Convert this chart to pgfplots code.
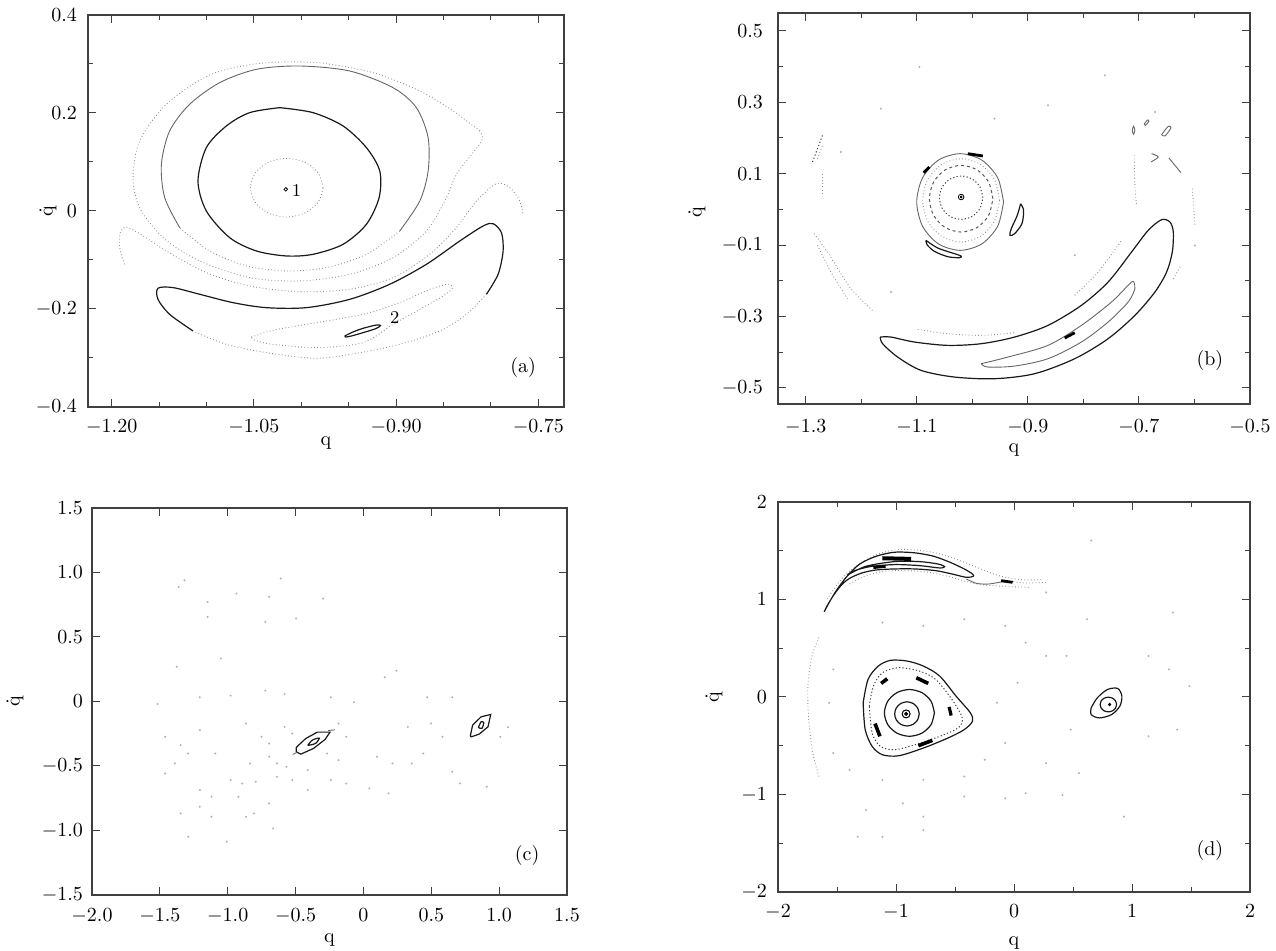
\documentclass[border=0pt]{standalone}
\usepackage{pgfplots}
\pgfplotsset{compat=1.18}
\begin{document}
\begin{tikzpicture}
\useasboundingbox (0,0) rectangle (638pt,475.5pt);
\pgfplotsset{
  panel/.style={scale only axis, anchor=south west,
    axis line style={black!75,line width=0.7pt},
    tick style={black!75,line width=0.5pt},
    major tick length=4pt, minor tick length=2.5pt,
    tick align=inside, tick pos=both,
    xlabel={q}, ylabel={\.q},
    xlabel style={at={(rel axis cs:0.5,0)},anchor=center},
  },
  sd/.style={black!90,line width=0.6pt},
  sg/.style={black!60,line width=0.45pt},
  dl/.style={black!45,line width=0.45pt,dash pattern=on 0.4pt off 1.2pt},
  dd/.style={black!75,line width=0.5pt,dash pattern=on 0.6pt off 1.1pt},
  td/.style={black,line width=1.4pt},
  sea/.style={only marks,mark=*,mark size=0.28pt,black!30},
}
% ---------------- (a) ----------------
\begin{axis}[panel, at={(44pt,272pt)}, width=238pt, height=196pt,
  xmin=-1.225, xmax=-0.723, ymin=-0.4, ymax=0.4,
  xtick={-1.2,-1.05,-0.9,-0.75}, xticklabels={$-1.20$,$-1.05$,$-0.90$,$-0.75$},
  minor xtick={-1.15,-1.1,-1,-0.95,-0.85,-0.8},
  ytick={-0.4,-0.2,0,0.2,0.4}, yticklabels={$-0.4$,$-0.2$,$0$,$0.2$,$0.4$},
  minor ytick={-0.3,-0.1,0.1,0.3},
  xticklabel style={yshift=-3pt}, yticklabel style={xshift=-2pt},
  ylabel style={at={(rel axis cs:0,0.5)},anchor=center,yshift=20pt},
  xlabel style={yshift=-18pt}]
% outer dotted loop
\addplot[dl,smooth] coordinates {(-0.8118,0.1633)(-0.8400,0.2041)(-0.8751,0.2449)(-0.9244,0.2823)(-0.9841,0.3027)(-1.0439,0.3013)(-1.0967,0.2775)(-1.1424,0.2177)(-1.1705,0.1429)(-1.1775,0.0680)(-1.1705,0.0068)(-1.1459,-0.0544)(-1.1072,-0.1020)(-1.0545,-0.1360)(-1.0017,-0.1428)(-0.9490,-0.1292)(-0.9033,-0.0952)(-0.8681,-0.0408)(-0.8470,0.0272)(-0.8365,0.0748)(-0.8189,0.1191)(-0.8090,0.1463)(-0.8118,0.1633)};
% second loop, upper part solid gray
\addplot[sg,smooth] coordinates {(-1.1283,-0.0340)(-1.1441,0.0272)(-1.1476,0.0952)(-1.1389,0.1633)(-1.1178,0.2177)(-1.0861,0.2619)(-1.0474,0.2891)(-1.0017,0.2959)(-0.9490,0.2857)(-0.9033,0.2517)(-0.8787,0.2109)(-0.8663,0.1497)(-0.8663,0.0816)(-0.8751,0.0204)(-0.8962,-0.0408)};
% second loop, lower part dotted
\addplot[dl,smooth] coordinates {(-0.8962,-0.0408)(-0.9314,-0.0884)(-0.9736,-0.1156)(-1.0158,-0.1224)(-1.0580,-0.1122)(-1.0967,-0.0816)(-1.1283,-0.0340)};
% solid ellipse around 1
\addplot[sd,smooth] coordinates {(-1.0228,0.2109)(-0.9877,0.2007)(-0.9560,0.1735)(-0.9314,0.1293)(-0.9173,0.0816)(-0.9180,0.0272)(-0.9314,-0.0272)(-0.9560,-0.0680)(-0.9877,-0.0884)(-1.0158,-0.0918)(-1.0474,-0.0816)(-1.0756,-0.0544)(-1.1002,0.0)(-1.1090,0.0612)(-1.1002,0.1293)(-1.0791,0.1735)(-1.0545,0.2007)(-1.0228,0.2109)};
% inner dotted ring
\addplot[dl,smooth] coordinates {(-0.9771,0.0476)(-0.9822,0.0776)(-0.9963,0.0995)(-1.0154,0.1075)(-1.0346,0.0995)(-1.0486,0.0776)(-1.0537,0.0476)(-1.0486,0.0177)(-1.0346,-0.0043)(-1.0154,-0.0123)(-0.9963,-0.0043)(-0.9822,0.0177)(-0.9771,0.0476)};
% tongue curve
\addplot[dl,smooth] coordinates {(-1.1863,-0.1088)(-1.1916,-0.0748)(-1.1909,-0.0442)(-1.1853,-0.0326)(-1.1705,-0.0462)(-1.1424,-0.0816)(-1.1002,-0.1258)(-1.0545,-0.1530)(-1.0017,-0.1646)(-0.9490,-0.1598)(-0.9033,-0.1360)(-0.8646,-0.0884)(-0.8365,-0.0340)(-0.8153,0.0204)(-0.7943,0.0558)(-0.7802,0.0476)(-0.7697,0.0204)(-0.7661,-0.0068)};
% banana: dark part
\addplot[sd,smooth] coordinates {(-1.1142,-0.2449)(-1.1389,-0.2109)(-1.1512,-0.1803)(-1.1512,-0.1577)(-1.1353,-0.1564)(-1.1072,-0.1700)(-1.0720,-0.1871)(-1.0369,-0.1973)(-0.9947,-0.1973)(-0.9490,-0.1803)(-0.9068,-0.1496)(-0.8681,-0.1088)(-0.8329,-0.0612)(-0.8083,-0.0306)(-0.7978,-0.0259)(-0.7890,-0.0442)(-0.7872,-0.0816)(-0.7925,-0.1292)(-0.8048,-0.1700)};
% banana: light part
\addplot[dl,smooth] coordinates {(-0.8048,-0.1700)(-0.8259,-0.2109)(-0.8540,-0.2449)(-0.8962,-0.2721)(-0.9384,-0.2891)(-0.9841,-0.3007)(-1.0369,-0.2891)(-1.0791,-0.2721)(-1.1142,-0.2449)};
% dotted loop around island 2
\addplot[dl,smooth] coordinates {(-1.0527,-0.2572)(-1.0299,-0.2435)(-0.9947,-0.2313)(-0.9349,-0.2109)(-0.8962,-0.1871)(-0.8646,-0.1598)(-0.8453,-0.1496)(-0.8407,-0.1577)(-0.8505,-0.1735)(-0.8751,-0.2007)(-0.9033,-0.2313)(-0.9349,-0.2687)(-0.9841,-0.2789)(-1.0299,-0.2721)(-1.0492,-0.2640)(-1.0527,-0.2572)};
% island 2
\addplot[sd,smooth] coordinates {(-0.9543,-0.2551)(-0.9455,-0.2469)(-0.9349,-0.2395)(-0.9208,-0.2327)(-0.9166,-0.2340)(-0.9215,-0.2401)(-0.9349,-0.2483)(-0.9472,-0.2551)(-0.9532,-0.2572)(-0.9543,-0.2551)};
% fixed point 1
\addplot[black,only marks,mark=o,mark size=0.9pt,mark options={line width=0.4pt}] coordinates {(-1.0164,0.0442)};
\node[font=\small] at (axis cs:-1.0052,0.0408) {1};
\node[font=\small] at (axis cs:-0.9015,-0.2177) {2};
\node at (rel axis cs:0.914,0.10) {(a)};
\end{axis}
% ---------------- (b) ----------------
\begin{axis}[panel, at={(389pt,273.5pt)}, width=236pt, height=195.5pt,
  xmin=-1.35, xmax=-0.5, ymin=-0.545, ymax=0.55,
  xtick={-1.3,-1.1,-0.9,-0.7,-0.5}, xticklabels={$-1.3$,$-1.1$,$-0.9$,$-0.7$,$-0.5$},
  minor xtick={-1.2,-1.0,-0.8,-0.6},
  ytick={-0.5,-0.3,-0.1,0.1,0.3,0.5}, yticklabels={$-0.5$,$-0.3$,$-0.1$,$0.1$,$0.3$,$0.5$},
  minor ytick={-0.4,-0.2,0,0.2,0.4},
  xticklabel style={yshift=-4.5pt}, yticklabel style={xshift=-4pt},
  ylabel style={at={(rel axis cs:0,0.49)},anchor=center,yshift=40.5pt},
  xlabel style={yshift=-23pt}]
\addplot[sea] coordinates {(-1.0954,0.3988)(-0.7615,0.3752)(-0.6712,0.2727)(-1.1646,0.2820)(-1.2368,0.1607)(-0.9600,0.2540)(-0.8638,0.2914)(-0.5991,-0.1008)(-1.1465,-0.2315)(-0.8156,-0.1288)};
% rings
\addplot[dd,smooth] coordinates {(-0.9811,0.0327)(-0.9863,0.0631)(-1.0006,0.0853)(-1.0202,0.0934)(-1.0398,0.0853)(-1.0541,0.0631)(-1.0593,0.0327)(-1.0541,0.0023)(-1.0398,-0.0199)(-1.0202,-0.0280)(-1.0006,-0.0199)(-0.9863,0.0023)(-0.9811,0.0327)};
\addplot[black!65,line width=0.5pt,dash pattern=on 1.5pt off 1.5pt,smooth] coordinates {(-0.9630,0.0299)(-0.9707,0.0766)(-0.9916,0.1108)(-1.0202,0.1233)(-1.0488,0.1108)(-1.0697,0.0766)(-1.0774,0.0299)(-1.0697,-0.0168)(-1.0488,-0.0510)(-1.0202,-0.0635)(-0.9916,-0.0510)(-0.9707,-0.0168)(-0.9630,0.0299)};
\addplot[dl,smooth] coordinates {(-0.9510,0.0253)(-0.9603,0.0837)(-0.9856,0.1264)(-1.0202,0.1420)(-1.0548,0.1264)(-1.0801,0.0837)(-1.0894,0.0253)(-1.0801,-0.0331)(-1.0548,-0.0758)(-1.0202,-0.0914)(-0.9856,-0.0758)(-0.9603,-0.0331)(-0.9510,0.0253)};
\addplot[sg,smooth] coordinates {(-0.9438,0.0206)(-0.9543,0.0883)(-0.9829,0.1379)(-1.0220,0.1560)(-1.0611,0.1379)(-1.0897,0.0883)(-1.1002,0.0206)(-1.0897,-0.0471)(-1.0611,-0.0967)(-1.0220,-0.1148)(-0.9829,-0.0967)(-0.9543,-0.0471)(-0.9438,0.0206)};
% islands around
\addplot[sd,smooth] coordinates {(-0.9131,0.0159)(-0.9077,-0.0027)(-0.9107,-0.0401)(-0.9239,-0.0681)(-0.9324,-0.0728)(-0.9299,-0.0541)(-0.9191,-0.0167)(-0.9131,0.0159)};
\addplot[sd,smooth] coordinates {(-1.0834,-0.0868)(-1.0623,-0.1083)(-1.0322,-0.1241)(-1.0202,-0.1307)(-1.0232,-0.1353)(-1.0443,-0.1325)(-1.0683,-0.1176)(-1.0816,-0.0989)(-1.0834,-0.0868)};
\addplot[td] coordinates {(-1.0082,0.1560)(-0.9811,0.1495)};
\addplot[td] coordinates {(-1.0877,0.1028)(-1.0774,0.1186)};
% fixed point
\addplot[black,only marks,mark=o,mark size=1.4pt,mark options={line width=0.4pt}] coordinates {(-1.0202,0.0346)};
\addplot[black,only marks,mark=*,mark size=0.5pt] coordinates {(-1.0202,0.0346)};
% big banana
\addplot[sd,smooth] coordinates {(-1.1658,-0.3576)(-1.1465,-0.3576)(-1.1044,-0.3715)(-1.0443,-0.3809)(-0.9841,-0.3762)(-0.9239,-0.3576)(-0.8638,-0.3249)(-0.8036,-0.2688)(-0.7555,-0.2035)(-0.7133,-0.1195)(-0.6833,-0.0588)(-0.6592,-0.0289)(-0.6442,-0.0354)(-0.6381,-0.0634)(-0.6399,-0.1195)(-0.6501,-0.1755)(-0.6712,-0.2315)(-0.7073,-0.2969)(-0.7555,-0.3622)(-0.8156,-0.4182)(-0.8878,-0.4602)(-0.9600,-0.4743)(-1.0322,-0.4696)(-1.0924,-0.4509)(-1.1345,-0.4136)(-1.1616,-0.3762)(-1.1658,-0.3576)};
\addplot[sg,smooth] coordinates {(-0.9841,-0.4322)(-0.9360,-0.4136)(-0.8638,-0.3809)(-0.8036,-0.3249)(-0.7494,-0.2595)(-0.7194,-0.2128)(-0.7103,-0.2016)(-0.7073,-0.2221)(-0.7194,-0.2595)(-0.7555,-0.3155)(-0.8036,-0.3715)(-0.8638,-0.4182)(-0.9239,-0.4388)(-0.9721,-0.4416)(-0.9841,-0.4322)};
\addplot[td] coordinates {(-0.8337,-0.3603)(-0.8156,-0.3454)};
% broken outer arcs
\addplot[dd] coordinates {(-1.2879,0.1327)(-1.2699,0.2074)};
\addplot[dl] coordinates {(-1.2789,0.1420)(-1.2699,0.1793)};
\addplot[dl] coordinates {(-1.2699,0.1000)(-1.2699,0.0393)};
\addplot[dl,smooth] coordinates {(-1.2849,-0.0681)(-1.2609,-0.1195)(-1.2187,-0.2221)(-1.1766,-0.2875)};
\addplot[dl,smooth] coordinates {(-1.2789,-0.1008)(-1.2548,-0.1755)(-1.2248,-0.2502)};
\addplot[dl,smooth] coordinates {(-1.0984,-0.3361)(-1.0443,-0.3482)(-0.9841,-0.3529)(-0.9239,-0.3454)};
\addplot[dl,smooth] coordinates {(-0.8156,-0.2408)(-0.7735,-0.1755)(-0.7314,-0.0868)};
\addplot[dl,smooth] coordinates {(-0.7085,0.1513)(-0.7073,0.0673)(-0.7043,0.0113)};
\addplot[dl] coordinates {(-0.6038,0.0580)(-0.5991,-0.0448)};
\addplot[dl] coordinates {(-0.6381,-0.1941)(-0.6261,-0.1615)};
% small right islands
\addplot[sg,smooth] coordinates {(-0.7121,0.2213)(-0.7097,0.2326)(-0.7073,0.2213)(-0.7097,0.2101)(-0.7121,0.2213)};
\addplot[sg,smooth] coordinates {(-0.6905,0.2391)(-0.6845,0.2503)(-0.6821,0.2466)(-0.6881,0.2354)(-0.6905,0.2391)};
\addplot[sg,smooth] coordinates {(-0.6592,0.2092)(-0.6471,0.2326)(-0.6423,0.2279)(-0.6532,0.2055)(-0.6592,0.2092)};
\addplot[sg,smooth] coordinates {(-0.6772,0.1560)(-0.6652,0.1467)(-0.6784,0.1327)};
\addplot[sg] coordinates {(-0.6460,0.1439)(-0.6243,0.1028)};
\node at (rel axis cs:0.915,0.111) {(b)};
\end{axis}
% ---------------- (c) ----------------
\begin{axis}[panel, at={(46pt,28pt)}, width=237.5pt, height=193.5pt,
  xmin=-2, xmax=1.5, ymin=-1.5, ymax=1.5,
  xtick={-2,-1.5,-1,-0.5,0,0.5,1,1.5},
  xticklabels={$-2.0$,$-1.5$,$-1.0$,$-0.5$,$0$,$0.5$,$1.0$,$1.5$},
  ytick={-1.5,-1,-0.5,0,0.5,1,1.5},
  yticklabels={$-1.5$,$-1.0$,$-0.5$,$0$,$0.5$,$1.0$,$1.5$},
  xticklabel style={yshift=-3.5pt}, yticklabel style={xshift=-1pt},
  ylabel style={at={(rel axis cs:0,0.5)},anchor=center,yshift=38.5pt},
  xlabel style={yshift=-22.5pt}]
\addplot[sea] coordinates {(-1.3188,0.9397)(-0.6091,0.9526)(-1.3613,0.8881)(-0.9355,0.8364)(-0.6943,0.8106)(-0.2969,0.7977)(-1.1485,0.7719)(-1.1485,0.6557)(-0.7227,0.6170)(-0.4956,0.6428)(-1.0491,0.3330)(-1.3755,0.2684)(-1.5175,-0.0188)(-1.2052,0.0328)(-0.9781,0.0457)(-0.7227,0.0845)(-0.5807,0.0586)(-0.2401,0.0328)(-0.0698,-0.0059)(0.1573,0.1877)(0.2425,0.2394)(0.4696,0.0328)(0.6541,0.0328)(1.0657,-0.1995)(0.6542,-0.5448)(0.7102,-0.6352)(0.9090,-0.6610)(-1.2904,-0.4028)(-1.0917,-0.4028)(-0.8362,-0.4803)(-0.6943,-0.4286)(-0.6375,-0.4803)(-0.5665,-0.5061)(-0.4104,-0.5319)(-0.2685,-0.4028)(-0.1833,-0.4545)(0.1005,-0.4286)(0.2141,-0.4803)(0.3560,-0.4803)(-0.9781,-0.6094)(-0.8930,-0.6352)(-0.7936,-0.6223)(-0.6375,-0.5836)(-0.1266,-0.6352)(0.0437,-0.6739)(0.1856,-0.7126)(-1.4607,-0.5577)(-1.3897,-0.4803)(-1.2052,-0.6869)(-1.1201,-0.7385)(-0.9214,-0.7385)(-0.8078,-0.8676)(-0.6943,-0.7901)(-0.6659,-0.9838)(-1.2052,-0.8160)(-1.3471,-0.8676)(-1.1201,-0.8934)(-1.2904,-1.0482)(-1.0065,-1.0870)(-0.8646,-0.8934)(-0.4104,-0.6869)(-0.2401,-0.6094)(-0.5239,-0.6094)(-0.6943,-0.3253)(-0.5807,-0.1962)(-0.1833,-0.1704)(-0.1266,-0.2737)(-0.5239,-0.2479)(-0.7510,-0.2737)(-0.8646,-0.1704)(-1.2052,-0.2221)(-1.4607,-0.2737)(-1.3471,-0.3383)(0.3276,-0.1962)(0.4980,-0.1704)(0.5831,-0.2737)(1.0090,-0.2737)(0.4412,-0.4028)};
% left island
\addplot[sd] coordinates {(-0.4955,-0.3563)(-0.4246,-0.2866)(-0.3394,-0.2376)(-0.2458,-0.2376)(-0.2827,-0.2944)(-0.3678,-0.3641)(-0.4615,-0.4080)(-0.4955,-0.3899)(-0.4955,-0.3563)};
\addplot[sd,smooth] coordinates {(-0.4104,-0.3408)(-0.3763,-0.2995)(-0.3252,-0.2840)(-0.3536,-0.3253)(-0.4104,-0.3408)};
\addplot[sg] coordinates {(-0.5200,-0.4100)(-0.4900,-0.3950)};
\addplot[sg] coordinates {(-0.2600,-0.2250)(-0.2100,-0.2200)};
% right island
\addplot[sd] coordinates {(0.7875,-0.2685)(0.8045,-0.1833)(0.8670,-0.1188)(0.9380,-0.1007)(0.9181,-0.1962)(0.8528,-0.2530)(0.7960,-0.2737)(0.7875,-0.2685)};
\addplot[sd,smooth] coordinates {(0.8471,-0.2014)(0.8670,-0.1575)(0.8869,-0.1653)(0.8727,-0.2091)(0.8471,-0.2014)};
\node at (rel axis cs:0.916,0.103) {(c)};
\end{axis}
% ---------------- (d) ----------------
\begin{axis}[panel, at={(389pt,29.5pt)}, width=236pt, height=195pt,
  xmin=-2, xmax=2, ymin=-2, ymax=2,
  xtick={-2,-1,0,1,2}, minor xtick={-1.5,-0.5,0.5,1.5},
  ytick={-2,-1,0,1,2}, minor ytick={-1.5,-0.5,0.5,1.5},
  xticklabel style={yshift=-3pt}, yticklabel style={xshift=-2pt},
  ylabel style={at={(rel axis cs:0,0.5)},anchor=center,yshift=32pt},
  xlabel style={yshift=-25.5pt}]
\addplot[sea] coordinates {(0.6539,1.6051)(1.3478,0.8669)(0.2723,1.0729)(-1.2541,-1.1589)(-0.9419,-1.0902)(-0.7685,-1.2275)(-0.4215,-1.0215)(-0.0746,-1.0387)(0.0988,-0.9872)(0.4111,-1.0043)(0.9315,-1.2275)(-1.3235,-1.4336)(-1.1154,-1.4336)(-0.7685,-1.3649)(0.5498,-0.7812)(0.2723,-0.6782)(-0.2481,-0.6439)(-0.0746,-0.4722)(-0.1440,-0.0602)(0.0295,0.1459)(0.2723,0.4206)(0.4458,0.4206)(1.1396,0.4206)(1.3131,0.2832)(1.4865,0.1115)(1.1396,-0.4035)(1.3824,-0.3345)(0.4805,-0.3345)(0.0988,0.5579)(-1.1154,0.7639)(-0.7685,0.7296)(-0.4215,0.7982)(-0.0746,0.7296)(0.6192,0.7982)(-1.3929,-0.7469)(-1.1154,-0.8499)(-0.7685,-0.8499)(-0.4215,-0.8155)(-1.5317,-0.5752)(-1.5664,-0.0602)(-1.5317,0.2832)};
% left boundary arc
\addplot[dl,smooth] coordinates {(-1.6531,0.6094)(-1.7121,0.4206)(-1.7468,0.1115)(-1.7398,-0.2318)(-1.7051,-0.5752)(-1.6531,-0.8155)};
% arch halos
\addplot[dl,smooth] coordinates {(-1.5837,1.0042)(-1.4623,1.2102)(-1.3235,1.3545)(-1.1501,1.4677)(-0.9766,1.5124)(-0.8031,1.5055)(-0.6297,1.4677)(-0.4562,1.3991)(-0.2828,1.3133)(-0.1093,1.2377)(0.0641,1.2034)(0.2376,1.2034)};
\addplot[dl,smooth] coordinates {(-1.3929,1.1587)(-1.2541,1.2446)(-1.0460,1.2961)(-0.7685,1.2858)(-0.5603,1.2377)(-0.3175,1.1587)(-0.0746,1.1347)(0.1335,1.1244)};
% arch outer loop
\addplot[sd,smooth] coordinates {(-1.6080,0.8738)(-1.5664,0.9699)(-1.4970,1.1072)(-1.4103,1.2446)(-1.3062,1.3647)(-1.1674,1.4437)(-1.0113,1.4849)(-0.8378,1.4781)(-0.6817,1.4437)(-0.5430,1.3819)(-0.4215,1.3133)(-0.3522,1.2617)(-0.3452,1.2377)(-0.4042,1.2274)(-0.5256,1.2617)(-0.6644,1.2961)(-0.8378,1.3133)(-1.0113,1.3133)(-1.1674,1.3030)(-1.2888,1.2721)(-1.3929,1.2171)(-1.4623,1.1484)(-1.5317,1.0386)(-1.5837,0.9356)(-1.6080,0.8738)};
% arch inner loop
\addplot[sd,smooth] coordinates {(-1.4103,1.2515)(-1.2541,1.3407)(-1.0113,1.3888)(-0.8031,1.3888)(-0.6470,1.3647)(-0.5881,1.3373)(-0.6297,1.3236)(-0.8031,1.3476)(-1.0113,1.3579)(-1.2194,1.3373)(-1.3582,1.2927)(-1.4103,1.2515)};
\addplot[td,line width=2pt] coordinates {(-1.1154,1.4231)(-0.8725,1.4163)};
\addplot[td] coordinates {(-1.1916,1.3270)(-1.0876,1.3407)};
% tail
\addplot[sg,smooth] coordinates {(-0.4042,1.2102)(-0.3175,1.1656)(-0.2134,1.1587)(-0.0920,1.1828)(-0.0052,1.1828)};
\addplot[dl,smooth] coordinates {(-0.0052,1.1828)(0.0988,1.1690)(0.2723,1.1759)};
\addplot[td] coordinates {(-0.1093,1.1931)(-0.0122,1.1759)};
% central island outer ring
\addplot[sd,smooth] coordinates {(-1.2785,-0.0602)(-1.2368,0.1802)(-1.1501,0.3175)(-1.0460,0.3759)(-0.9072,0.3690)(-0.7685,0.3175)(-0.6297,0.2145)(-0.4909,0.0085)(-0.3695,-0.1631)(-0.3522,-0.2490)(-0.4215,-0.3345)(-0.5603,-0.4211)(-0.7685,-0.5237)(-0.9766,-0.6027)(-1.1154,-0.5923)(-1.2021,-0.5065)(-1.2611,-0.3345)(-1.2785,-0.0602)};
% dotted ring
\addplot[dd,smooth] coordinates {(-1.2264,-0.0945)(-1.1916,0.1115)(-1.1154,0.2489)(-0.9766,0.3004)(-0.8031,0.2660)(-0.6644,0.1802)(-0.5256,-0.0258)(-0.4388,-0.2147)(-0.4736,-0.3178)(-0.6297,-0.4035)(-0.8378,-0.4891)(-1.0113,-0.5415)(-1.1327,-0.5065)(-1.2021,-0.3690)(-1.2264,-0.0945)};
% island chain
\addplot[td,line width=1.8pt] coordinates {(-1.1258,0.1390)(-1.0738,0.1871)};
\addplot[td,line width=1.8pt] coordinates {(-0.8274,0.1974)(-0.7268,0.1390)};
\addplot[td,line width=1.6pt] coordinates {(-0.5499,-0.1013)(-0.5326,-0.1906)};
\addplot[td,line width=1.8pt] coordinates {(-1.1778,-0.2730)(-1.1362,-0.4035)};
\addplot[td,line width=1.8pt] coordinates {(-0.8101,-0.4996)(-0.6921,-0.4447)};
% rings
\addplot[sd,smooth] coordinates {(-0.6744,-0.1631)(-0.7028,-0.0431)(-0.7804,0.0447)(-0.8864,0.0769)(-0.9924,0.0447)(-1.0700,-0.0431)(-1.0984,-0.1631)(-1.0700,-0.2831)(-0.9924,-0.3709)(-0.8864,-0.4031)(-0.7804,-0.3709)(-0.7028,-0.2831)(-0.6744,-0.1631)};
\addplot[sd,smooth] coordinates {(-0.8032,-0.1735)(-0.8171,-0.1115)(-0.8552,-0.0661)(-0.9072,-0.0495)(-0.9592,-0.0661)(-0.9973,-0.1115)(-1.0112,-0.1735)(-0.9973,-0.2355)(-0.9592,-0.2809)(-0.9072,-0.2975)(-0.8552,-0.2809)(-0.8171,-0.2355)(-0.8032,-0.1735)};
\addplot[black,only marks,mark=o,mark size=2pt,mark options={line width=0.5pt}] coordinates {(-0.9142,-0.1735)};
\addplot[black,only marks,mark=*,mark size=0.8pt] coordinates {(-0.9142,-0.1735)};
% right island
\addplot[sd,smooth] coordinates {(0.6539,-0.1117)(0.7060,-0.0087)(0.7927,0.0772)(0.8794,0.0875)(0.9141,0.0085)(0.8968,-0.0945)(0.8274,-0.1803)(0.7233,-0.2147)(0.6539,-0.1803)(0.6539,-0.1117)};
\addplot[sd,smooth] coordinates {(0.8696,-0.0773)(0.8602,-0.0398)(0.8346,-0.0123)(0.7996,-0.0023)(0.7646,-0.0123)(0.7390,-0.0398)(0.7296,-0.0773)(0.7390,-0.1148)(0.7646,-0.1423)(0.7996,-0.1523)(0.8346,-0.1423)(0.8602,-0.1148)(0.8696,-0.0773)};
\addplot[black,only marks,mark=*,mark size=0.6pt] coordinates {(0.81,-0.077)};
\node at (rel axis cs:0.915,0.107) {(d)};
\end{axis}
\end{tikzpicture}
\end{document}
